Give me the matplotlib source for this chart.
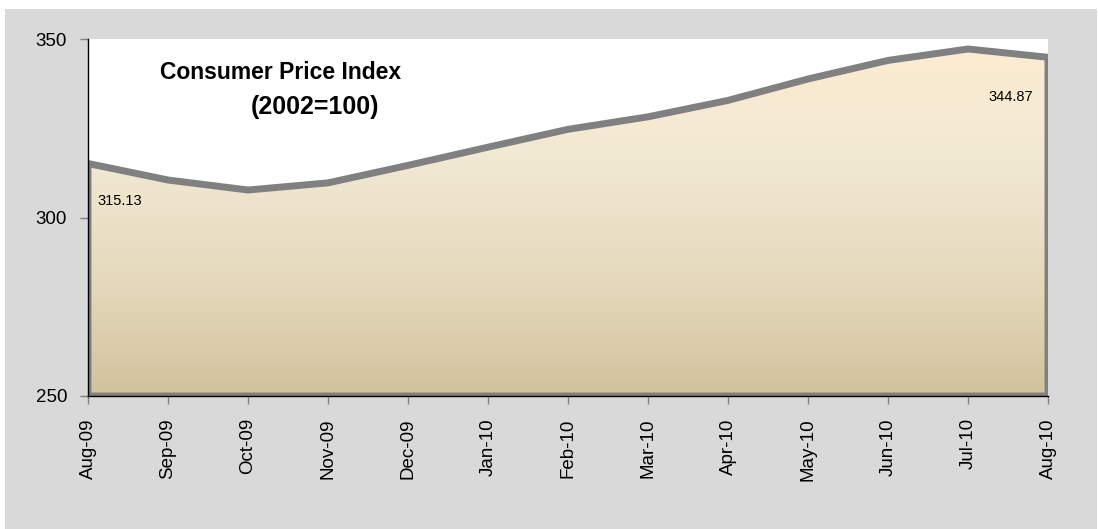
import numpy as np
import matplotlib.pyplot as plt
from matplotlib.colors import LinearSegmentedColormap
from matplotlib.patches import Rectangle, Polygon

plt.rcParams['font.family'] = ['Liberation Sans', 'DejaVu Sans']

# data
months = ['Aug-09', 'Sep-09', 'Oct-09', 'Nov-09', 'Dec-09', 'Jan-10', 'Feb-10',
          'Mar-10', 'Apr-10', 'May-10', 'Jun-10', 'Jul-10', 'Aug-10']
cpi = [315.13, 310.5, 307.7, 309.7, 314.6, 319.7, 324.7,
       328.2, 332.8, 338.8, 344.0, 347.2, 344.87]
y_ticks = [250, 300, 350]

fig = plt.figure(figsize=(10.98, 5.29), dpi=100)
fig.patch.set_facecolor('white')
# grey chart background
fig.add_artist(Rectangle((5/1098, 0), 1092/1098, 520/529, transform=fig.transFigure,
                         facecolor='#d9d9d9', edgecolor='none', zorder=-10))

ax = fig.add_axes([88/1098, 1-396/529, 960/1098, 357/529])
ax.set_facecolor('white')

x = np.arange(len(months))
ax.set_xlim(0, len(months)-1)
ax.set_ylim(250, 350)

# gradient fill under the line
cmap = LinearSegmentedColormap.from_list('cpi', ['#d2c29d', '#e6dabd', '#f2e9d3', '#fdecd1'])
grad = np.linspace(0, 1, 256).reshape(-1, 1)
img = ax.imshow(grad, extent=[0, len(months)-1, 250, 350], origin='lower',
                cmap=cmap, aspect='auto', zorder=1)
verts = [(0, 250)] + list(zip(x, cpi)) + [(len(months)-1, 250)]
poly = Polygon(verts, closed=True, facecolor='none', edgecolor='#808080',
               linewidth=5, joinstyle='miter', zorder=2)
ax.add_patch(poly)
img.set_clip_path(poly)

# labels on the first and last points
ax.text(0.12, 304.5, '%.2f' % cpi[0], fontsize=10.5, va='center', ha='left', zorder=3)
ax.text(len(months)-1.19, 333.8, '%.2f' % cpi[-1], fontsize=10.5, va='center', ha='right', zorder=3)

ax.text(2.41, 340.7, 'Consumer Price Index', fontsize=16.5, fontweight='bold',
        ha='center', va='center', zorder=3)
ax.text(2.84, 331.0, '(2002=100)', fontsize=18, fontweight='bold',
        ha='center', va='center', zorder=3)

ax.set_xticks(x)
ax.set_xticklabels(months, rotation=90, fontsize=13.5)
ax.set_yticks(y_ticks)
ax.set_yticklabels([str(v) for v in y_ticks], fontsize=13.5)
ax.tick_params(axis='both', direction='out', length=6, width=1, color='#808080')
ax.tick_params(axis='y', pad=9)
ax.tick_params(axis='x', pad=10)

for s in ['top', 'right']:
    ax.spines[s].set_visible(False)
for s in ['left', 'bottom']:
    ax.spines[s].set_color('black')
    ax.spines[s].set_linewidth(1)
    ax.spines[s].set_zorder(4)

fig.savefig('out.png', dpi=100)
